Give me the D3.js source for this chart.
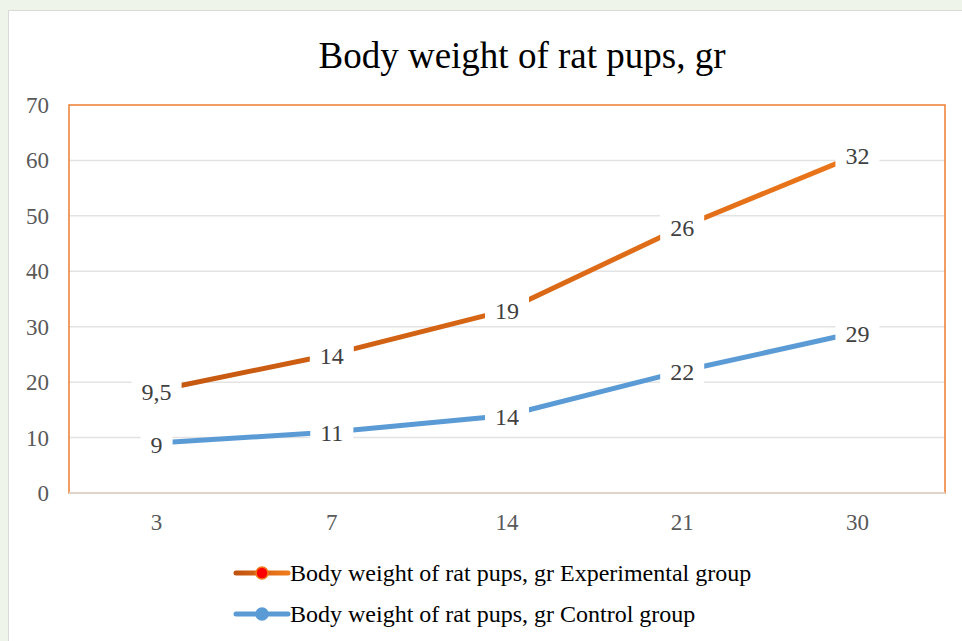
<!DOCTYPE html>
<html><head><meta charset="utf-8">
<script src="https://cdn.jsdelivr.net/npm/d3@7"></script>
<style>
html,body{margin:0;padding:0;background:#eef4ea;}
svg{display:block;}
</style></head>
<body>
<svg id="c" width="962" height="641"></svg>
<script>
const categories = ["3", "7", "14", "21", "30"];
const controlValues = [9, 11, 14, 22, 29];
const experimentalValues = [9.5, 14, 19, 26, 32];
const yTicks = [0, 10, 20, 30, 40, 50, 60, 70];
const seriesNames = ["Body weight of rat pups, gr Experimental group", "Body weight of rat pups, gr Control group"];
const title = "Body weight of rat pups, gr";

const svg = d3.select("#c");
const font = "'Liberation Serif','Times New Roman',serif";

// chart area
svg.append("rect").attr("x", 8.5).attr("y", 10.5).attr("width", 970).attr("height", 650)
  .attr("fill", "#fff").attr("stroke", "#d9d9d9");

const L = 69, R = 945, T = 105, B = 493;
const x = d3.scaleBand().domain(categories).range([L, R]);
const y = d3.scaleLinear().domain([0, 70]).range([B, T]);
const cx = c => x(c) + x.bandwidth() / 2;

// gridlines
svg.append("g").selectAll("line").data(yTicks.filter(t => t > 0 && t < 70)).join("line")
  .attr("x1", L).attr("x2", R).attr("y1", d => y(d)).attr("y2", d => y(d))
  .attr("stroke", "#e3e3e3").attr("stroke-width", 1.5);

// plot area border
svg.append("rect").attr("x", L).attr("y", T).attr("width", R - L).attr("height", B - T)
  .attr("fill", "none").attr("stroke", "#ED7D31").attr("stroke-width", 1.5);
svg.append("line").attr("x1", L).attr("x2", R).attr("y1", B).attr("y2", B)
  .attr("stroke", "#e2d3ca").attr("stroke-width", 2);

// y tick labels
svg.append("g").selectAll("text").data(yTicks).join("text")
  .attr("x", 49).attr("y", d => y(d)).attr("dy", "0.35em").attr("text-anchor", "end")
  .attr("font-family", font).attr("font-size", 23).attr("fill", "#595959").text(d => d);

// x tick labels
svg.append("g").selectAll("text").data(categories).join("text")
  .attr("x", d => cx(d)).attr("y", 522).attr("dy", "0.35em").attr("text-anchor", "middle")
  .attr("font-family", font).attr("font-size", 23).attr("fill", "#595959").text(d => d);

// gradient for experimental
const defs = svg.append("defs");
const grad = defs.append("linearGradient").attr("id", "expGrad")
  .attr("gradientUnits", "userSpaceOnUse").attr("x1", L).attr("x2", R).attr("y1", 0).attr("y2", 0);
grad.append("stop").attr("offset", "0%").attr("stop-color", "#C0540F");
grad.append("stop").attr("offset", "100%").attr("stop-color", "#F07A1C");
const lgrad = defs.append("linearGradient").attr("id", "legGrad")
  .attr("gradientUnits", "userSpaceOnUse").attr("x1", 236).attr("x2", 288).attr("y1", 0).attr("y2", 0);
lgrad.append("stop").attr("offset", "0%").attr("stop-color", "#C0540F");
lgrad.append("stop").attr("offset", "100%").attr("stop-color", "#F07A1C");

// stacked data
const ctrl = categories.map((c, i) => ({c, v: controlValues[i], top: controlValues[i]}));
const exp = categories.map((c, i) => ({c, v: experimentalValues[i], top: controlValues[i] + experimentalValues[i]}));

const line = d3.line().x(d => cx(d.c)).y(d => y(d.top));
svg.append("path").datum(ctrl).attr("d", line).attr("fill", "none")
  .attr("stroke", "#5B9BD5").attr("stroke-width", 5).attr("stroke-linejoin", "round");
svg.append("path").datum(exp).attr("d", line).attr("fill", "none")
  .attr("stroke", "url(#expGrad)").attr("stroke-width", 5).attr("stroke-linejoin", "round");

// labels with white boxes
function labels(data) {
  const g = svg.append("g");
  data.forEach(d => {
    const s = String(d.v).replace(".", ",");
    const t = g.append("text").attr("x", cx(d.c)).attr("y", y(d.top) + 1).attr("dy", "0.35em")
      .attr("text-anchor", "middle").attr("font-family", font).attr("font-size", 24)
      .attr("fill", "#404040").text(s);
    const bb = t.node().getBBox();
    g.insert("rect", "text").attr("x", bb.x - 10).attr("y", y(d.top) - 15)
      .attr("width", bb.width + 20).attr("height", 30).attr("fill", "#fff");
  });
}
labels(ctrl);
labels(exp);

// title
svg.append("text").attr("x", 522).attr("y", 68).attr("text-anchor", "middle")
  .attr("font-family", font).attr("font-size", 37).attr("fill", "#000").text(title);

// legend
const leg = [
  {name: seriesNames[0], stroke: "url(#legGrad)", fill: "#FF0000", ms: "#F07A1C", yy: 573},
  {name: seriesNames[1], stroke: "#5B9BD5", fill: "#5B9BD5", ms: "#5B9BD5", yy: 614}
];
leg.forEach(l => {
  svg.append("line").attr("x1", 236).attr("x2", 288).attr("y1", l.yy).attr("y2", l.yy)
    .attr("stroke", l.stroke).attr("stroke-width", 5).attr("stroke-linecap", "round");
  svg.append("circle").attr("cx", 262).attr("cy", l.yy).attr("r", 6)
    .attr("fill", l.fill).attr("stroke", l.ms).attr("stroke-width", 1.5);
  svg.append("text").attr("x", 290).attr("y", l.yy).attr("dy", "0.35em")
    .attr("font-family", font).attr("font-size", 24).attr("fill", "#000").text(l.name);
});
</script>
</body></html>
